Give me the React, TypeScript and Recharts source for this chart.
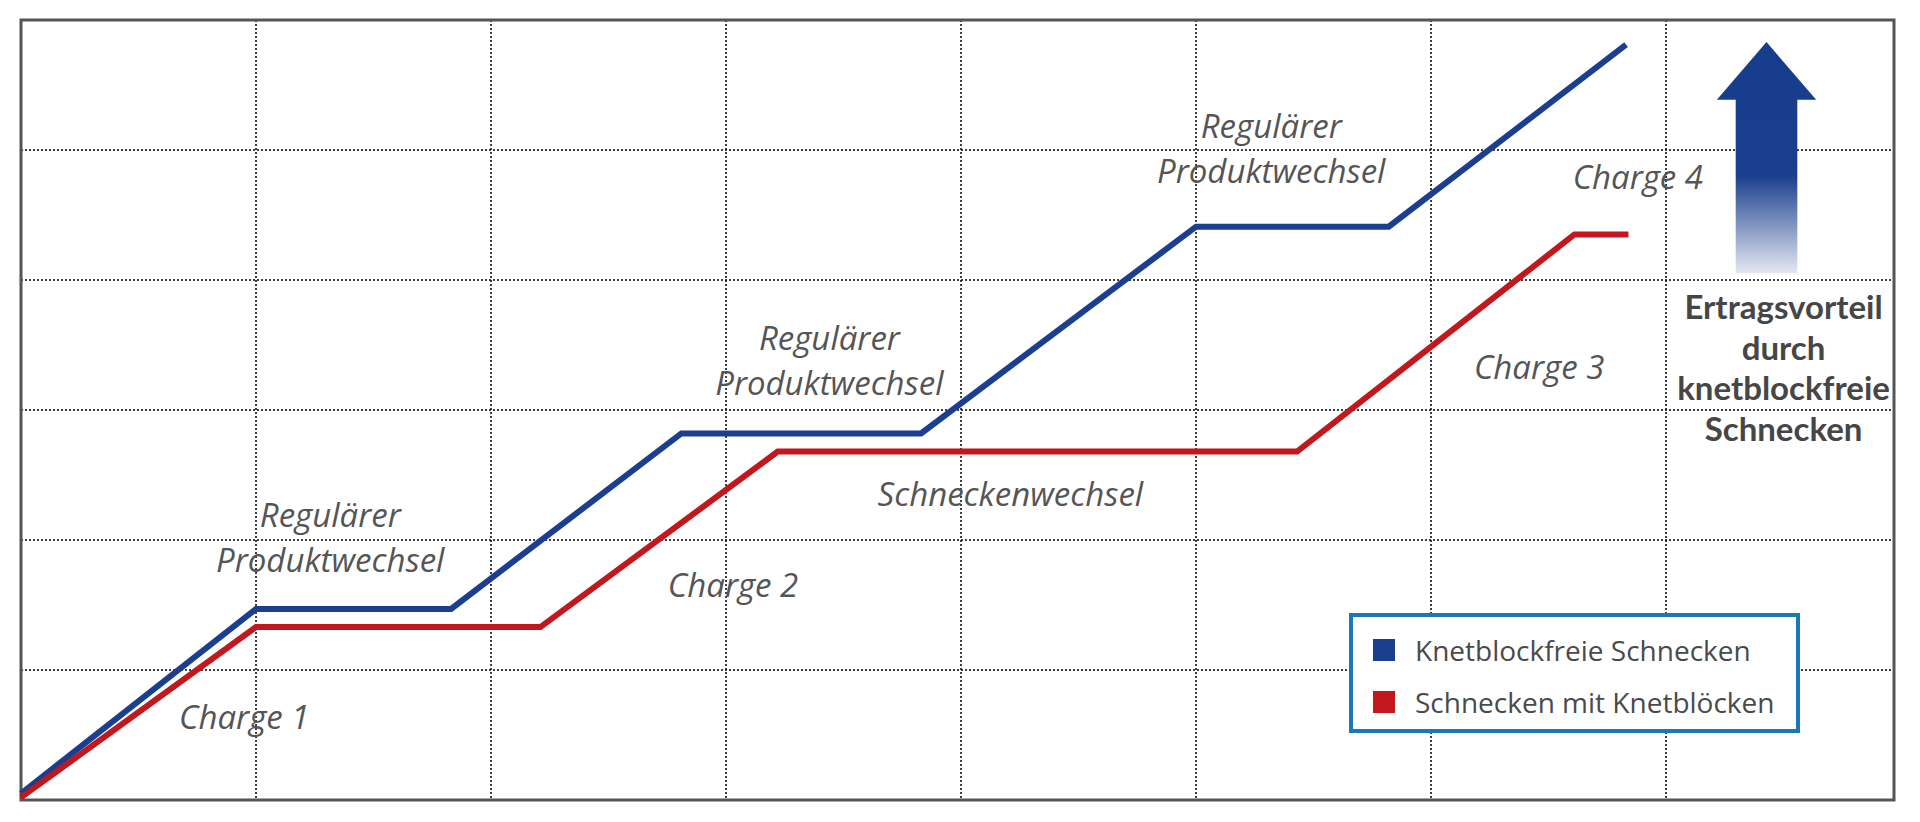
import {
  LineChart, Line, XAxis, YAxis, CartesianGrid, ReferenceArea, ReferenceDot, Legend
} from 'recharts'

// x in batch-time units (grid columns), y in cumulative yield units (grid rows)
const blueX = [0, 1.0, 1.83, 2.81, 3.83, 5.0, 5.82, 6.83]
const blueY = [0.05, 1.47, 1.47, 2.82, 2.82, 4.41, 4.41, 5.81]
const redX = [0, 1.0, 2.21, 3.22, 5.43, 6.61, 6.84]
const redY = [0.02, 1.33, 1.33, 2.68, 2.68, 4.35, 4.35]

const xTicks = [0, 1, 2, 3, 4, 5, 6, 7]
const yTicks = [0, 1, 2, 3, 4, 5, 6]
const X_MAX = 7.97

const BLUE = '#1b3f8e'
const RED = '#c1171d'

const blueData = blueX.map((x, i) => ({ x, y: blueY[i] }))
const redData = redX.map((x, i) => ({ x, y: redY[i] }))

// annotation texts, placed in chart units
const notes = [
  { lines: ['Regulärer', 'Produktwechsel'], x: 1.316, y: 2.2 },
  { lines: ['Regulärer', 'Produktwechsel'], x: 3.44, y: 3.56 },
  { lines: ['Regulärer', 'Produktwechsel'], x: 5.32, y: 5.19 },
  { lines: ['Charge 1'], x: 0.95, y: 0.65 },
  { lines: ['Charge 2'], x: 3.03, y: 1.66 },
  { lines: ['Schneckenwechsel'], x: 4.21, y: 2.36 },
  { lines: ['Charge 3'], x: 6.46, y: 3.34 },
  { lines: ['Charge 4'], x: 6.88, y: 4.8 },
]
const gainLines = ['Ertragsvorteil', 'durch', 'knetblockfreie', 'Schnecken']

const noteShape = (lines: string[], bold = false) => (p: any) => (
  <text
    x={p.cx}
    y={p.cy}
    textAnchor="middle"
    dominantBaseline="central"
    fontFamily={bold ? 'Lato, "Open Sans", sans-serif' : '"Open Sans", sans-serif'}
    fontStyle={bold ? 'normal' : 'italic'}
    fontWeight={bold ? 700 : 400}
    fontSize={33}
    fill={bold ? '#464646' : '#555'}
  >
    {lines.map((t, i) => (
      <tspan key={i} x={p.cx} dy={i === 0 ? 0 : bold ? 40.5 : 45}>{t}</tspan>
    ))}
  </text>
)

const arrowShape = (p: any) => {
  const { x, y, width, height } = p
  const head = height * 0.25
  const inset = width * 0.19
  const pts = [
    [x + width / 2, y],
    [x + width, y + head],
    [x + width - inset, y + head],
    [x + width - inset, y + height],
    [x + inset, y + height],
    [x + inset, y + head],
    [x, y + head],
  ].map(q => q.join(',')).join(' ')
  return (
    <g>
      <defs>
        <linearGradient id="arrowFade" x1="0" y1="0" x2="0" y2="1">
          <stop offset="0%" stopColor="#183c8c" />
          <stop offset="58%" stopColor="#1b3f8f" />
          <stop offset="100%" stopColor="#e4e8f2" />
        </linearGradient>
      </defs>
      <polygon points={pts} fill="url(#arrowFade)" />
    </g>
  )
}

const LegendBox = (props: any) => (
  <div style={{
    width: 451, height: 120, boxSizing: 'border-box', border: '4px solid #1a78b8',
    background: '#fff', padding: '7px 0 0 20px', fontFamily: '"Open Sans", sans-serif',
  }}>
    {(props.payload || []).map((e: any) => (
      <div key={e.value} style={{ display: 'flex', alignItems: 'center', height: 52 }}>
        <span style={{ width: 22, height: 22, background: e.color, display: 'inline-block', marginRight: 20 }} />
        <span style={{ fontSize: 28, color: '#4a4a4a', lineHeight: '30px' }}>{e.value}</span>
      </div>
    ))}
  </div>
)

export default function App() {
  return (
    <div style={{ position: 'absolute', left: 0, top: 0, width: 1920, height: 822, background: '#fff' }}>
      <LineChart width={1920} height={822} margin={{ top: 20, right: 26, left: 21, bottom: 22 }}>
        <XAxis type="number" dataKey="x" domain={[0, X_MAX]} ticks={xTicks} hide />
        <YAxis type="number" dataKey="y" domain={[0, 6]} ticks={yTicks} hide />
        <CartesianGrid stroke="#000" strokeWidth={1.5} strokeDasharray="2 2" />
        <ReferenceArea x1={7.216} x2={7.639} y1={4.054} y2={5.83} shape={arrowShape} />
        <Line data={blueData} dataKey="y" name="Knetblockfreie Schnecken" stroke={BLUE} strokeWidth={6}
          dot={false} activeDot={false} isAnimationActive={false} type="linear" />
        <Line data={redData} dataKey="y" name="Schnecken mit Knetblöcken" stroke={RED} strokeWidth={6}
          dot={false} activeDot={false} isAnimationActive={false} type="linear" />
        {notes.map((n, i) => (
          <ReferenceDot key={i} x={n.x} y={n.y} r={0} shape={noteShape(n.lines)} />
        ))}
        <ReferenceDot x={7.5} y={3.8} r={0} shape={noteShape(gainLines, true)} />
        <ReferenceArea x1={0} x2={X_MAX} y1={0} y2={6} fill="none" stroke="#555" strokeWidth={3} />
        <Legend content={LegendBox} layout="horizontal" verticalAlign="middle" align="center"
          wrapperStyle={{ left: 1349, top: 613, width: 451, height: 120 }} />
      </LineChart>
    </div>
  )
}
